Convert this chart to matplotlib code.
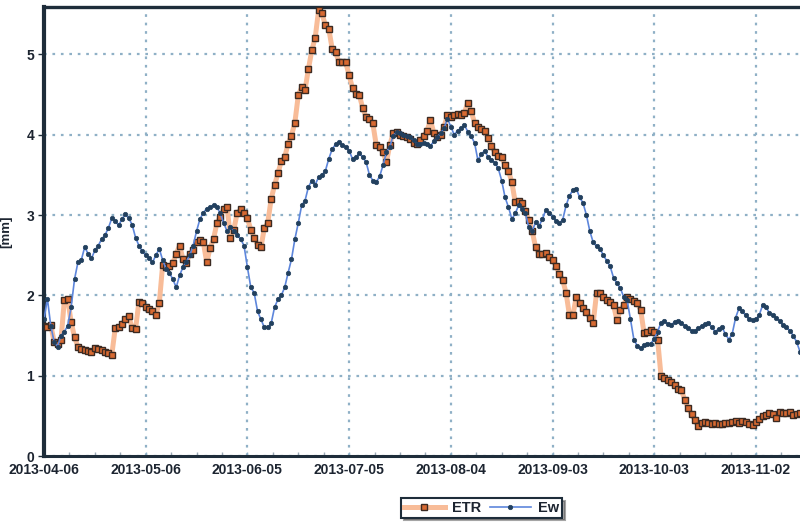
import numpy as np
import pandas as pd
import matplotlib
matplotlib.use("Agg")
import matplotlib.pyplot as plt
import matplotlib.dates as mdates

# Daily series, starting 2013-04-06
start_date = "2013-04-06"

etr = [
    1.62, 1.60, 1.63, 1.42, 1.40, 1.44, 1.94, 1.95, 1.67, 1.48,
    1.36, 1.33, 1.32, 1.31, 1.30, 1.34, 1.33, 1.32, 1.30, 1.28,
    1.26, 1.59, 1.60, 1.64, 1.70, 1.74, 1.59, 1.58, 1.92, 1.90,
    1.86, 1.83, 1.80, 1.76, 1.90, 2.38, 2.35, 2.36, 2.40, 2.52,
    2.62, 2.45, 2.40, 2.52, 2.56, 2.66, 2.69, 2.66, 2.41, 2.59,
    2.70, 2.90, 2.98, 3.08, 3.10, 2.72, 2.82, 3.03, 3.07, 3.02,
    2.96, 2.82, 2.72, 2.63, 2.60, 2.84, 2.90, 3.20, 3.37, 3.52,
    3.67, 3.72, 3.89, 3.99, 4.15, 4.49, 4.59, 4.56, 4.82, 5.05,
    5.21, 5.55, 5.51, 5.36, 5.32, 5.07, 5.03, 4.90, 4.91, 4.90,
    4.74, 4.58, 4.51, 4.50, 4.33, 4.22, 4.20, 4.14, 3.87, 3.85,
    3.78, 3.66, 3.87, 4.02, 4.03, 4.00, 3.98, 3.97, 3.95, 3.90,
    3.88, 3.93, 3.98, 4.05, 4.18, 4.02, 3.97, 4.00, 4.10, 4.24,
    4.22, 4.24, 4.26, 4.25, 4.27, 4.40, 4.29, 4.15, 4.09, 4.07,
    4.05, 3.96, 3.86, 3.78, 3.74, 3.72, 3.62, 3.55, 3.41, 3.16,
    3.18, 3.15, 3.05, 2.94, 2.80, 2.60, 2.52, 2.52, 2.53, 2.48,
    2.44, 2.37, 2.27, 2.19, 2.03, 1.75, 1.75, 1.98, 1.90, 1.84,
    1.79, 1.72, 1.66, 2.03, 2.03, 1.98, 1.94, 1.92, 1.88, 1.69,
    1.82, 1.88, 1.98, 1.95, 1.93, 1.90, 1.82, 1.53, 1.54, 1.57,
    1.55, 1.45, 1.00, 0.97, 0.95, 0.92, 0.88, 0.84, 0.82, 0.70,
    0.60, 0.52, 0.45, 0.37, 0.41, 0.42, 0.41, 0.40, 0.41, 0.40,
    0.40, 0.41, 0.41, 0.42, 0.43, 0.41, 0.43, 0.42, 0.40, 0.39,
    0.42, 0.46, 0.50, 0.51, 0.53, 0.52, 0.47, 0.55, 0.54, 0.53,
    0.55, 0.51, 0.52, 0.53,
]

ew = [
    1.70, 1.96, 1.62, 1.42, 1.36, 1.50, 1.55, 1.62, 1.85, 2.20,
    2.41, 2.44, 2.60, 2.52, 2.46, 2.56, 2.62, 2.70, 2.75, 2.84,
    2.96, 2.93, 2.87, 2.95, 3.01, 2.96, 2.88, 2.72, 2.62, 2.55,
    2.50, 2.46, 2.41, 2.50, 2.58, 2.44, 2.33, 2.28, 2.20, 2.10,
    2.25, 2.35, 2.42, 2.50, 2.62, 2.80, 2.95, 3.03, 3.08, 3.10,
    3.12, 3.10, 3.02, 2.90, 2.80, 2.85, 2.80, 2.75, 2.70, 2.62,
    2.35, 2.10, 2.03, 1.80, 1.70, 1.60, 1.60, 1.65, 1.85, 1.95,
    2.00, 2.10, 2.28, 2.45, 2.70, 2.90, 3.12, 3.18, 3.35, 3.43,
    3.38, 3.47, 3.50, 3.55, 3.70, 3.82, 3.88, 3.91, 3.87, 3.85,
    3.80, 3.70, 3.72, 3.77, 3.72, 3.66, 3.50, 3.43, 3.41, 3.48,
    3.62, 3.78, 3.85, 3.99, 4.03, 4.02, 4.00, 3.98, 3.97, 3.93,
    3.89, 3.89, 3.90, 3.88, 3.86, 3.92, 3.97, 4.02, 4.08, 4.20,
    4.10, 4.00, 4.05, 4.08, 4.12, 4.04, 3.98, 3.90, 3.68, 3.76,
    3.80, 3.72, 3.69, 3.65, 3.58, 3.43, 3.22, 3.10, 2.95, 3.02,
    3.12, 3.08, 3.02, 2.85, 2.80, 2.91, 2.86, 2.95, 3.06, 3.02,
    2.98, 2.93, 2.90, 2.94, 3.12, 3.24, 3.31, 3.33, 3.22, 3.15,
    3.00, 2.80, 2.66, 2.61, 2.58, 2.50, 2.43, 2.36, 2.22, 2.15,
    2.09, 1.98, 1.94, 1.70, 1.45, 1.37, 1.34, 1.38, 1.40, 1.40,
    1.46, 1.55, 1.66, 1.68, 1.64, 1.63, 1.67, 1.68, 1.66, 1.62,
    1.59, 1.56, 1.56, 1.59, 1.62, 1.64, 1.65, 1.60, 1.55, 1.58,
    1.60, 1.52, 1.45, 1.52, 1.72, 1.84, 1.80, 1.75, 1.71, 1.69,
    1.70, 1.76, 1.88, 1.85, 1.78, 1.75, 1.72, 1.68, 1.63, 1.60,
    1.56, 1.50, 1.42, 1.30,
]

tick_dates = ["2013-04-06", "2013-05-06", "2013-06-05", "2013-07-05",
              "2013-08-04", "2013-09-03", "2013-10-03", "2013-11-02"]
y_ticks = [0, 1, 2, 3, 4, 5]
y_label = "[mm]"
series_names = ["ETR", "Ew"]

dates = pd.date_range(start_date, periods=len(etr), freq="D")

plt.rcParams["font.family"] = ["Liberation Sans", "DejaVu Sans"]

fig = plt.figure(figsize=(8.0, 5.27), dpi=100)
ax = fig.add_axes([0.055, 0.1347, 0.945, 0.852])

dark = "#1e2d3a"
grid_c = "#8fb0c6"

l1, = ax.plot(dates, etr, color="#f8bc98", lw=3.6, marker="s", ms=4.3,
              mfc="#d86a32", mec="#3b2a22", mew=1.0, zorder=3,
              label=series_names[0])
l2, = ax.plot(dates, ew, color="#5d86dc", lw=1.2, marker="o", ms=3.2,
              mfc="#22405e", mec="#22405e", mew=0.5, zorder=4,
              label=series_names[1])

ax.set_xlim(pd.Timestamp(start_date), pd.Timestamp(start_date) + pd.Timedelta(days=223))
ax.set_ylim(0, 5.59)

ax.set_xticks(pd.to_datetime(tick_dates))
ax.xaxis.set_major_formatter(mdates.DateFormatter("%Y-%m-%d"))
minor = pd.date_range(start_date, periods=30, freq="180h")
ax.set_xticks(minor, minor=True)
ax.set_yticks(y_ticks)

ax.grid(True, which="major", color=grid_c, ls=(0, (1.2, 2.6)), lw=1.6)
ax.set_axisbelow(True)

for s in ["left", "top", "bottom"]:
    ax.spines[s].set_color(dark)
ax.spines["left"].set_linewidth(3.0)
ax.spines["top"].set_linewidth(2.4)
ax.spines["bottom"].set_linewidth(2.2)
ax.spines["right"].set_visible(False)

ax.tick_params(axis="x", which="major", direction="in", length=3, width=1,
               color=grid_c, labelsize=10, labelcolor="#1c2430", pad=5)
ax.tick_params(axis="x", which="minor", direction="in", length=3, width=1,
               color="#9aa8b4")
ax.tick_params(axis="y", direction="out", length=4, width=1, color=dark,
               labelsize=10, labelcolor="#1c2430", pad=3)
for lab in ax.get_xticklabels() + ax.get_yticklabels():
    lab.set_fontweight("bold")

ax.set_ylabel(y_label, fontsize=9.5, fontweight="bold", color="#1c2430", labelpad=10)

leg = fig.legend(handles=[l1, l2], loc="center", bbox_to_anchor=(0.602, 0.0365),
                 ncol=2, frameon=True, fancybox=False, shadow=True,
                 fontsize=10.5, handlelength=2.8, handletextpad=0.5,
                 columnspacing=0.6, borderpad=0.2, borderaxespad=0.0)
leg.get_frame().set_edgecolor(dark)
leg.get_frame().set_linewidth(1.5)
for t in leg.get_texts():
    t.set_fontweight("bold")
    t.set_color("#1c2430")

fig.savefig("out.png", dpi=100, facecolor="white")
